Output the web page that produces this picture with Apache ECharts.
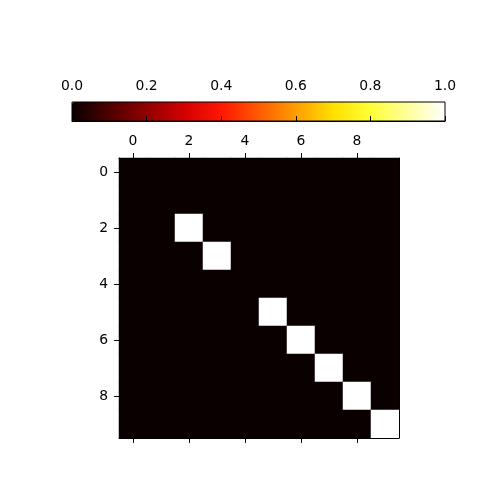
<!DOCTYPE html>
<html>
<head>
<meta charset="utf-8">
<script src="https://cdn.jsdelivr.net/npm/echarts@6/dist/echarts.min.js"></script>
<style>
  html, body { margin: 0; padding: 0; background: #fff; }
  #chart { width: 480px; height: 480px; }
</style>
</head>
<body>
<div id="chart"></div>
<script>
// 10x10 matrix, rows top to bottom
const rowLabels = ['0','1','2','3','4','5','6','7','8','9'];
const colLabels = ['0','1','2','3','4','5','6','7','8','9'];
const matrix = [
  [0,0,0,0,0,0,0,0,0,0],
  [0,0,0,0,0,0,0,0,0,0],
  [0,0,1,0,0,0,0,0,0,0],
  [0,0,0,1,0,0,0,0,0,0],
  [0,0,0,0,0,0,0,0,0,0],
  [0,0,0,0,0,1,0,0,0,0],
  [0,0,0,0,0,0,1,0,0,0],
  [0,0,0,0,0,0,0,1,0,0],
  [0,0,0,0,0,0,0,0,1,0],
  [0,0,0,0,0,0,0,0,0,1]
];
const cbarTicks = [0.0, 0.2, 0.4, 0.6, 0.8, 1.0];

// matplotlib "hot" colormap sampled at 0, 0.1, ... 1.0
const hot = ['#0a0000','#4e0000','#910000','#d40000','#ff1700','#ff5a00',
             '#ff9d00','#ffe000','#ffff36','#ffff9b','#ffffff'];

const cells = [];
matrix.forEach((row, r) => row.forEach((v, c) => cells.push([c, r, v])));

const font = 'DejaVu Sans';
const tick = 4.9;
const tickStyle = { show: true, length: tick, inside: false, lineStyle: { color: '#000', width: 1 } };

const chart = echarts.init(document.getElementById('chart'));
chart.setOption({
  animation: false,
  backgroundColor: '#fff',
  textStyle: { fontFamily: font },
  grid: [
    { left: 119, top: 158, width: 280, height: 280 },
    { left: 72, top: 102, width: 373, height: 19, show: true,
      borderColor: '#000', borderWidth: 1, backgroundColor: 'transparent', z: 10 }
  ],
  xAxis: [
    { type: 'category', data: colLabels, position: 'top', gridIndex: 0, z: 5,
      axisLine: { show: true, lineStyle: { color: '#000', width: 1 } },
      axisTick: Object.assign({ alignWithLabel: true, interval: 1 }, tickStyle),
      axisLabel: { interval: 1, color: '#000', fontSize: 13.9, fontFamily: font, margin: 10 },
      splitLine: { show: false } },
    { type: 'category', data: colLabels, position: 'bottom', gridIndex: 0, z: 5,
      axisLine: { show: true, lineStyle: { color: '#000', width: 1 } },
      axisTick: Object.assign({ alignWithLabel: true, interval: 1 }, tickStyle),
      axisLabel: { show: false },
      splitLine: { show: false } },
    { type: 'value', min: 0, max: 1, interval: 0.2, position: 'top', gridIndex: 1, z: 10,
      axisLine: { show: true, lineStyle: { color: '#000', width: 1 } },
      axisTick: tickStyle,
      axisLabel: { color: '#000', fontSize: 13.9, fontFamily: font, margin: 8.5,
        formatter: v => cbarTicks.includes(+v.toFixed(1)) ? v.toFixed(1) : '' },
      splitLine: { show: false } }
  ],
  yAxis: [
    { type: 'category', data: rowLabels, inverse: true, position: 'left', gridIndex: 0, z: 5,
      axisLine: { show: true, lineStyle: { color: '#000', width: 1 } },
      axisTick: Object.assign({ alignWithLabel: true, interval: 1 }, tickStyle),
      axisLabel: { interval: 1, color: '#000', fontSize: 13.9, fontFamily: font, margin: 11 },
      splitLine: { show: false } },
    { type: 'category', data: rowLabels, inverse: true, position: 'right', gridIndex: 0, z: 5,
      axisLine: { show: true, lineStyle: { color: '#000', width: 1 } },
      axisTick: { show: false }, axisLabel: { show: false }, splitLine: { show: false } },
    { type: 'value', gridIndex: 1, min: 0, max: 1, show: false }
  ],
  visualMap: {
    type: 'continuous',
    min: 0, max: 1,
    orient: 'horizontal',
    left: 72, top: 102,
    itemWidth: 19, itemHeight: 373,
    padding: 0,
    calculable: false,
    hoverLink: false,
    text: null,
    inRange: { color: hot },
    seriesIndex: 0
  },
  series: [{
    type: 'heatmap',
    xAxisIndex: 0, yAxisIndex: 0,
    data: cells,
    emphasis: { disabled: true },
    progressive: 0
  }]
});
</script>
</body>
</html>
